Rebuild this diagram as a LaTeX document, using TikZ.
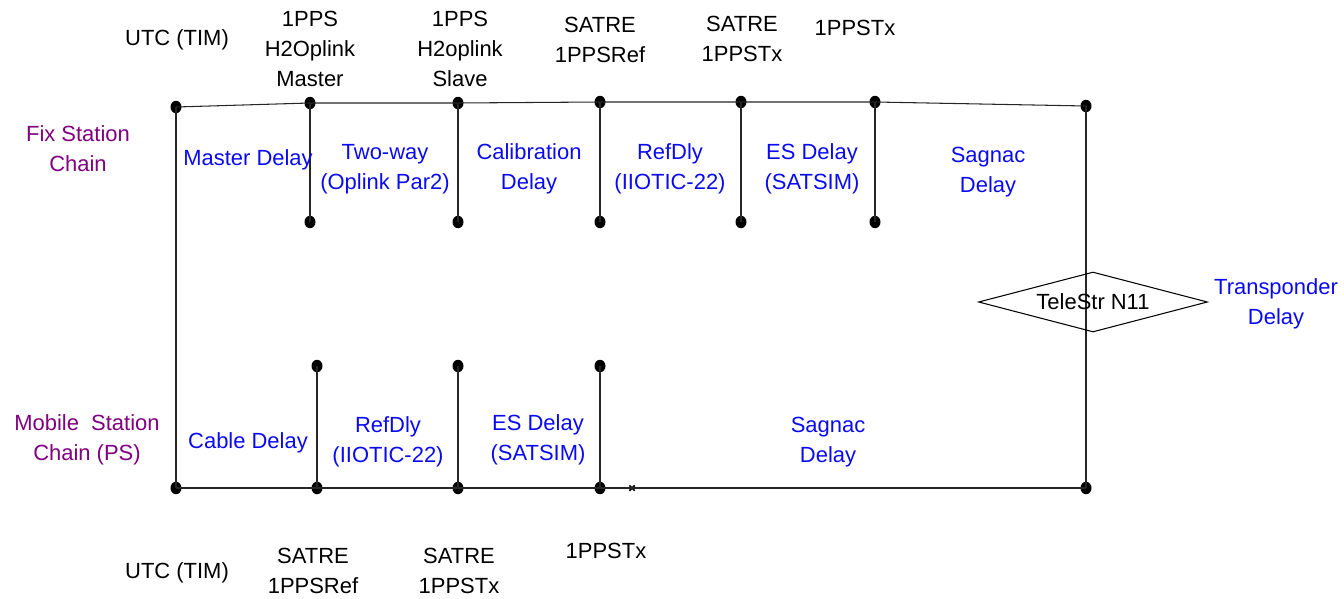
\documentclass[tikz,border=0pt]{standalone}
\usepackage{fontspec}
\setmainfont{Liberation Sans}
\usetikzlibrary{shapes.geometric,shapes.misc}
\definecolor{chainpurple}{RGB}{128,0,128}
\definecolor{delayblue}{RGB}{10,10,240}
\begin{document}
\begin{tikzpicture}[x=0.02cm,y=-0.02cm,
  dot/.style={ellipse,fill=black,inner sep=0pt,minimum width=0.22cm,minimum height=0.25cm},
  wire/.style={draw=black!85,line width=0.6pt},
  lbl/.style={align=center,font=\fontsize{12.5}{17}\selectfont,inner sep=0pt},
  chain/.style={lbl,text=chainpurple},
  delay/.style={lbl,text=delayblue}]
\useasboundingbox (0,0) rectangle (1344,598);
% top dots
\node[dot] (t0) at (176,107) {};
\node[dot] (t1) at (310,103) {};
\node[dot] (t2) at (458,103) {};
\node[dot] (t3) at (600,102) {};
\node[dot] (t4) at (741,102) {};
\node[dot] (t5) at (875,102) {};
\node[dot] (t6) at (1086,106) {};
% top drop ends
\node[dot] (d1) at (310,222) {};
\node[dot] (d2) at (458,222) {};
\node[dot] (d3) at (600,222) {};
\node[dot] (d4) at (741,222) {};
\node[dot] (d5) at (875,222) {};
% bottom dots
\node[dot] (b0) at (176,488) {};
\node[dot] (b1) at (317,488) {};
\node[dot] (b2) at (458,488) {};
\node[dot] (b3) at (600,488) {};
\node[dot] (b6) at (1086,488) {};
% bottom rise ends
\node[dot] (u1) at (317,366) {};
\node[dot] (u2) at (458,366) {};
\node[dot] (u3) at (600,366) {};
% small cross marker
\node[cross out,draw=black,line width=1pt,inner sep=0pt,minimum size=0.07cm] (xm) at (632,488) {};
% wires
\draw[wire] (t0.center) -- (t1.center) -- (t2.center) -- (t3.center) -- (t4.center) -- (t5.center) -- (t6.center);
\draw[wire] (b0.center) -- (b1.center) -- (b2.center) -- (b3.center) -- (xm.center) -- (b6.center);
\draw[wire] (t0.center) -- (b0.center);
\draw[wire] (t6.center) -- (b6.center);
\foreach \i in {1,...,5} {\draw[wire] (t\i.center) -- (d\i.center);}
\foreach \i in {1,2,3} {\draw[wire] (u\i.center) -- (b\i.center);}
% diamond
\node[diamond,draw=black,line width=0.6pt,aspect=3.8,inner sep=0pt,minimum width=4.58cm,minimum height=1.2cm,lbl] (tele) at (1093,302) {TeleStr N11};
% top labels
\node[lbl] (utc1) at (177,40) {UTC (TIM)};
\node[lbl] (m1) at (310,49) {1PPS\\H2Oplink\\Master};
\node[lbl] (s1) at (460,49) {1PPS\\H2oplink\\Slave};
\node[lbl] (sr1) at (600,40) {SATRE\\1PPSRef};
\node[lbl] (st1) at (742,39) {SATRE\\1PPSTx};
\node[lbl] (tx1) at (855,28) {1PPSTx};
% chain labels
\node[chain] (fix) at (78,149) {Fix Station\\Chain};
\node[chain] (mob) at (87,440) {Mobile\ \ Station\\Chain (PS)};
% top delays
\node[delay] (md) at (248,160) {Master Delay};
\node[delay] (tw) at (385,169) {Two-way\\(Oplink Par2)};
\node[delay] (cd) at (529,169) {Calibration\\Delay};
\node[delay] (rd) at (670,169) {RefDly\\(IIOTIC-22)};
\node[delay] (es) at (812,169) {ES Delay\\(SATSIM)};
\node[delay] (sg) at (988,172) {Sagnac\\Delay};
\node[delay] (tr) at (1276,304) {Transponder\\Delay};
% bottom delays
\node[delay] (cb) at (248,443) {Cable Delay};
\node[delay] (rd2) at (388,442) {RefDly\\(IIOTIC-22)};
\node[delay] (es2) at (538,440) {ES Delay\\(SATSIM)};
\node[delay] (sg2) at (828,442) {Sagnac\\Delay};
% bottom labels
\node[lbl] (utc2) at (177,573) {UTC (TIM)};
\node[lbl] (sr2) at (313,571) {SATRE\\1PPSRef};
\node[lbl] (st2) at (459,571) {SATRE\\1PPSTx};
\node[lbl] (tx2) at (606,551) {1PPSTx};
\end{tikzpicture}
\end{document}
